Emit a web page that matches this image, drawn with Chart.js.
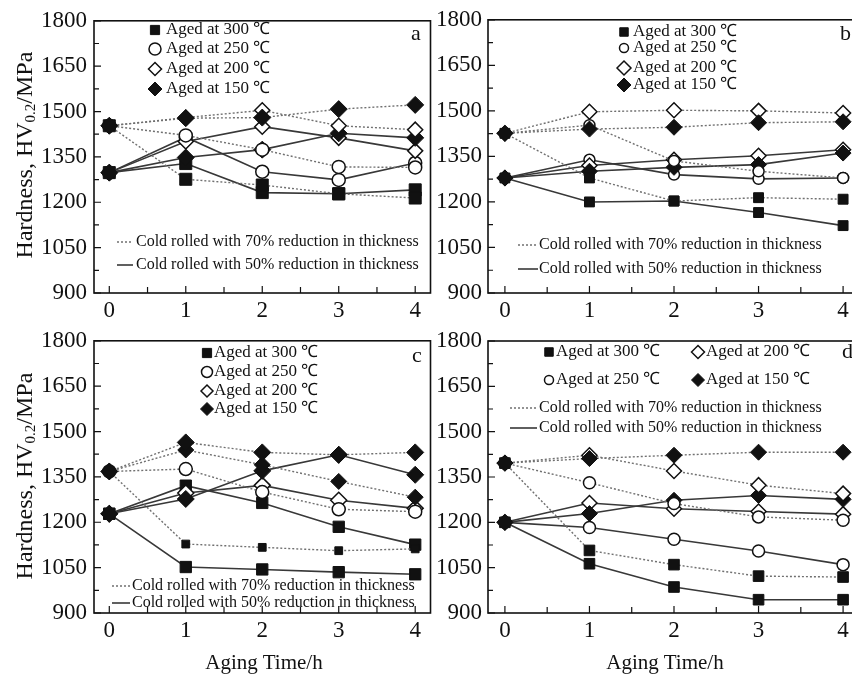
<!DOCTYPE html>
<html>
<head>
<meta charset="utf-8">
<script src="https://cdn.jsdelivr.net/npm/chart.js@4.4.1/dist/chart.umd.min.js"></script>
<style>
body{margin:0;width:852px;height:679px;overflow:hidden;background:#fff;position:relative;font-family:"Liberation Serif","Times New Roman",serif;color:#111;}
canvas{position:absolute;}
.ytit{position:absolute;white-space:nowrap;font-size:24px;line-height:1;transform:translate(-50%,-50%) rotate(-90deg);}
.ytit sub{font-size:15px;vertical-align:-3px;line-height:0;}
.xtit{position:absolute;white-space:nowrap;font-size:21px;line-height:1;transform:translate(-50%,-50%);}
</style>
</head>
<body>
<canvas id="ga" width="440" height="320" style="left:0;top:0"></canvas>
<canvas id="gb" width="440" height="320" style="left:430px;top:0"></canvas>
<canvas id="gc" width="440" height="330" style="left:0;top:320px"></canvas>
<canvas id="gd" width="440" height="330" style="left:430px;top:320px"></canvas>
<div class="ytit" style="left:24px;top:155px">Hardness, HV<sub>0.2</sub>/MPa</div>
<div class="ytit" style="left:24px;top:476px">Hardness, HV<sub>0.2</sub>/MPa</div>
<div class="xtit" style="left:264px;top:662px">Aging Time/h</div>
<div class="xtit" style="left:665px;top:662px">Aging Time/h</div>
<script>
var horas = [0, 1, 2, 3, 4];
var ticksX = [0, 1, 2, 3, 4];
var ticksY = [900, 1050, 1200, 1350, 1500, 1650, 1800];

// panel a
var a300_70 = [1453, 1276, 1257, 1228, 1214];
var a250_70 = [1453, 1421, 1374, 1317, 1315];
var a200_70 = [1453, 1480, 1504, 1453, 1440];
var a150_70 = [1453, 1478, 1480, 1508, 1522];
var a300_50 = [1298, 1328, 1232, 1228, 1241];
var a250_50 = [1298, 1415, 1301, 1274, 1330];
var a200_50 = [1298, 1401, 1450, 1413, 1370];
var a150_50 = [1298, 1348, 1374, 1428, 1413];

// panel b
var b300_70 = [1426, 1279, 1203, 1214, 1209];
var b250_70 = [1426, 1453, 1335, 1301, 1279];
var b200_70 = [1426, 1497, 1502, 1500, 1493];
var b150_70 = [1426, 1440, 1446, 1461, 1464];
var b300_50 = [1279, 1200, 1203, 1165, 1122];
var b250_50 = [1279, 1339, 1290, 1276, 1279];
var b200_50 = [1279, 1320, 1339, 1352, 1372];
var b150_50 = [1279, 1301, 1314, 1323, 1361];

// panel c
var c300_70 = [1368, 1128, 1117, 1106, 1112];
var c250_70 = [1368, 1376, 1300, 1243, 1235];
var c200_70 = [1368, 1439, 1390, 1335, 1283];
var c150_70 = [1368, 1464, 1431, 1423, 1431];
var c300_50 = [1228, 1052, 1044, 1035, 1028];
var c250_50 = [1228, 1321, 1264, 1185, 1126];
var c200_50 = [1228, 1297, 1322, 1273, 1246];
var c150_50 = [1228, 1277, 1370, 1423, 1357];

// panel d
var d300_70 = [1396, 1107, 1060, 1022, 1019];
var d250_70 = [1396, 1331, 1262, 1218, 1207];
var d200_70 = [1396, 1422, 1370, 1323, 1295];
var d150_70 = [1396, 1411, 1422, 1432, 1432];
var d300_50 = [1200, 1063, 986, 944, 944];
var d250_50 = [1200, 1183, 1144, 1105, 1060];
var d200_50 = [1200, 1264, 1245, 1236, 1227];
var d150_50 = [1200, 1229, 1273, 1289, 1276];

var txt300 = 'Aged at 300 \u2103';
var txt250 = 'Aged at 250 \u2103';
var txt200 = 'Aged at 200 \u2103';
var txt150 = 'Aged at 150 \u2103';
var txt70 = 'Cold rolled with 70% reduction in thickness';
var txt50 = 'Cold rolled with 50% reduction in thickness';

Chart.defaults.font.family = '"Liberation Serif", "Times New Roman", serif';
Chart.defaults.font.size = 23;
Chart.defaults.color = '#111';

function estiloMarca(marca) {
    if (marca == 'cuadro') return 'rect';
    if (marca == 'circulo') return 'circle';
    return 'rectRot';
}

function serie(datos, linea, marca, r) {
    var abierto = (marca == 'circulo' || marca == 'rombo');
    return {
        data: horas.map(function (h, i) { return {x: h, y: datos[i]}; }),
        borderColor: linea == 'punteada' ? '#707070' : '#383838',
        borderWidth: linea == 'punteada' ? 1.4 : 1.6,
        borderDash: linea == 'punteada' ? [2, 2] : [],
        pointStyle: estiloMarca(marca),
        pointRadius: r,
        pointHoverRadius: r,
        pointBackgroundColor: abierto ? '#fff' : '#111',
        pointBorderColor: '#111',
        pointBorderWidth: abierto ? 1.5 : 1
    };
}

// frame, inward ticks, legend and panel letter
var marco = {
    id: 'marco',
    afterDraw: function (chart, args, o) {
        var ctx = chart.ctx, ca = chart.chartArea;
        var sx = chart.scales.x, sy = chart.scales.y;
        ctx.save();
        ctx.strokeStyle = '#111';
        ctx.lineWidth = 1.6;
        ctx.strokeRect(ca.left, ca.top, ca.right - ca.left, ca.bottom - ca.top);
        ctx.lineWidth = 1.2;
        ctx.beginPath();
        for (var i = 0; i < ticksY.length; i++) {
            var py = sy.getPixelForValue(ticksY[i]);
            ctx.moveTo(ca.left, py); ctx.lineTo(ca.left + 7, py);
            if (i < ticksY.length - 1) {
                var pm = sy.getPixelForValue((ticksY[i] + ticksY[i + 1]) / 2);
                ctx.moveTo(ca.left, pm); ctx.lineTo(ca.left + 5, pm);
            }
        }
        for (var j = 0; j < ticksX.length; j++) {
            var px = sx.getPixelForValue(ticksX[j]);
            ctx.moveTo(px, ca.bottom); ctx.lineTo(px, ca.bottom - 7);
            if (j < ticksX.length - 1) {
                var pmx = sx.getPixelForValue((ticksX[j] + ticksX[j + 1]) / 2);
                ctx.moveTo(pmx, ca.bottom); ctx.lineTo(pmx, ca.bottom - 6);
            }
        }
        ctx.stroke();

        var ox = o.ox, oy = o.oy;
        ctx.fillStyle = '#111';
        ctx.textBaseline = 'middle';
        ctx.textAlign = 'left';
        ctx.font = '22px "Liberation Serif", "Times New Roman", serif';
        ctx.fillText(o.letra, o.lx - ox, o.ly - oy);

        ctx.font = o.fm + 'px "Liberation Serif", "Times New Roman", serif';
        o.marcas.forEach(function (m) {
            var abierto = (m.tipo == 'circulo' || m.tipo == 'rombo');
            ctx.fillStyle = abierto ? '#fff' : '#111';
            ctx.strokeStyle = '#111';
            ctx.lineWidth = abierto ? 1.5 : 1;
            Chart.helpers.drawPoint(ctx, {pointStyle: estiloMarca(m.tipo), radius: m.r, rotation: 0, borderWidth: ctx.lineWidth}, m.mx - ox, m.y - oy);
            ctx.fillStyle = '#111';
            ctx.fillText(m.texto, m.tx - ox, m.y - oy);
        });

        ctx.font = o.fl + 'px "Liberation Serif", "Times New Roman", serif';
        o.lineas.forEach(function (l) {
            ctx.beginPath();
            ctx.strokeStyle = l.tipo == 'punteada' ? '#707070' : '#383838';
            ctx.lineWidth = l.tipo == 'punteada' ? 1.4 : 1.6;
            ctx.setLineDash(l.tipo == 'punteada' ? [2, 2] : []);
            ctx.moveTo(l.x1 - ox, l.y - oy);
            ctx.lineTo(l.x2 - ox, l.y - oy);
            ctx.stroke();
            ctx.setLineDash([]);
            ctx.fillStyle = '#111';
            ctx.fillText(l.texto, l.tx - ox, l.y - oy);
        });
        ctx.restore();
    }
};

function Graficar(id, series, geo, leyenda) {
    var canvas = document.getElementById(id).getContext('2d');
    return new Chart(canvas, {
        type: 'line',
        data: { datasets: series },
        options: {
            responsive: false,
            animation: false,
            devicePixelRatio: 1,
            layout: { padding: { top: geo.top, right: geo.right, left: 0, bottom: 0 } },
            elements: { line: { tension: 0 } },
            plugins: { legend: { display: false }, tooltip: { enabled: false }, marco: leyenda },
            scales: {
                x: {
                    type: 'linear', min: -0.2, max: 4.2,
                    grid: { display: false, drawTicks: false }, border: { display: false },
                    afterBuildTicks: function (s) { s.ticks = ticksX.map(function (v) { return {value: v}; }); },
                    afterFit: function (s) { s.height = geo.xh; },
                    ticks: { padding: 4, maxRotation: 0, callback: function (v) { return String(v); } }
                },
                y: {
                    min: 900, max: 1800,
                    grid: { display: false, drawTicks: false }, border: { display: false },
                    afterBuildTicks: function (s) { s.ticks = ticksY.map(function (v) { return {value: v}; }); },
                    afterFit: function (s) { s.width = geo.yw; },
                    ticks: { padding: geo.yp, callback: function (v) { return String(v); } }
                }
            }
        },
        plugins: [marco]
    });
}

// first dataset is drawn on top
Graficar('ga', [
    serie(a150_70, 'punteada', 'rombolleno', 8.5),
    serie(a200_70, 'punteada', 'rombo', 7.5),
    serie(a250_70, 'punteada', 'circulo', 6.5),
    serie(a300_70, 'punteada', 'cuadro', 8.5),
    serie(a150_50, 'solida', 'rombolleno', 8.5),
    serie(a200_50, 'solida', 'rombo', 7.5),
    serie(a250_50, 'solida', 'circulo', 6.5),
    serie(a300_50, 'solida', 'cuadro', 8.5)
], {top: 17, right: 8, xh: 27, yw: 94, yp: 7}, {
    ox: 0, oy: 0, letra: 'a', lx: 411, ly: 34, fm: 17, fl: 16,
    marcas: [
        {tipo: 'cuadro', r: 6.5, mx: 155, tx: 166, y: 30, texto: txt300},
        {tipo: 'circulo', r: 6, mx: 155, tx: 166, y: 49, texto: txt250},
        {tipo: 'rombo', r: 6.5, mx: 155, tx: 166, y: 69, texto: txt200},
        {tipo: 'rombolleno', r: 7, mx: 155, tx: 166, y: 89, texto: txt150}
    ],
    lineas: [
        {tipo: 'punteada', x1: 117, x2: 133, tx: 136, y: 242, texto: txt70},
        {tipo: 'solida', x1: 117, x2: 133, tx: 136, y: 265, texto: txt50}
    ]
});

Graficar('gb', [
    serie(b150_70, 'punteada', 'rombolleno', 8),
    serie(b200_70, 'punteada', 'rombo', 7.5),
    serie(b250_70, 'punteada', 'circulo', 5.5),
    serie(b300_70, 'punteada', 'cuadro', 7),
    serie(b150_50, 'solida', 'rombolleno', 8),
    serie(b200_50, 'solida', 'rombo', 7.5),
    serie(b250_50, 'solida', 'circulo', 5.5),
    serie(b300_50, 'solida', 'cuadro', 7)
], {top: 17, right: 10, xh: 27, yw: 58, yp: 6}, {
    ox: 430, oy: 0, letra: 'b', lx: 840, ly: 34, fm: 17, fl: 16,
    marcas: [
        {tipo: 'cuadro', r: 6, mx: 624, tx: 633, y: 32, texto: txt300},
        {tipo: 'circulo', r: 4.5, mx: 624, tx: 633, y: 48, texto: txt250},
        {tipo: 'rombo', r: 7, mx: 624, tx: 633, y: 68, texto: txt200},
        {tipo: 'rombolleno', r: 7, mx: 624, tx: 633, y: 85, texto: txt150}
    ],
    lineas: [
        {tipo: 'punteada', x1: 518, x2: 538, tx: 539, y: 245, texto: txt70},
        {tipo: 'solida', x1: 518, x2: 538, tx: 539, y: 269, texto: txt50}
    ]
});

Graficar('gc', [
    serie(c150_70, 'punteada', 'rombolleno', 8.5),
    serie(c200_70, 'punteada', 'rombolleno', 8),
    serie(c250_70, 'punteada', 'circulo', 6.5),
    serie(c300_70, 'punteada', 'cuadro', 5.5),
    serie(c150_50, 'solida', 'rombolleno', 8.5),
    serie(c200_50, 'solida', 'rombo', 8),
    serie(c250_50, 'solida', 'cuadro', 8),
    serie(c300_50, 'solida', 'cuadro', 8)
], {top: 18, right: 8, xh: 37, yw: 94, yp: 7}, {
    ox: 0, oy: 320, letra: 'c', lx: 412, ly: 356, fm: 17, fl: 16,
    marcas: [
        {tipo: 'cuadro', r: 6.5, mx: 207, tx: 214, y: 353, texto: txt300},
        {tipo: 'circulo', r: 5.5, mx: 207, tx: 214, y: 372, texto: txt250},
        {tipo: 'rombo', r: 6, mx: 207, tx: 214, y: 391, texto: txt200},
        {tipo: 'rombolleno', r: 6.5, mx: 207, tx: 214, y: 409, texto: txt150}
    ],
    lineas: [
        {tipo: 'punteada', x1: 112, x2: 130, tx: 132, y: 586, texto: txt70},
        {tipo: 'solida', x1: 112, x2: 130, tx: 132, y: 603, texto: txt50}
    ]
});

Graficar('gd', [
    serie(d150_70, 'punteada', 'rombolleno', 8),
    serie(d200_70, 'punteada', 'rombo', 7.5),
    serie(d250_70, 'punteada', 'circulo', 6),
    serie(d300_70, 'punteada', 'cuadro', 7.5),
    serie(d150_50, 'solida', 'rombolleno', 8),
    serie(d200_50, 'solida', 'rombo', 7.5),
    serie(d250_50, 'solida', 'circulo', 6),
    serie(d300_50, 'solida', 'cuadro', 7.5)
], {top: 21, right: 10, xh: 37, yw: 58, yp: 6}, {
    ox: 430, oy: 320, letra: 'd', lx: 842, ly: 352, fm: 17, fl: 16,
    marcas: [
        {tipo: 'cuadro', r: 6, mx: 549, tx: 556, y: 352, texto: txt300},
        {tipo: 'rombo', r: 6.5, mx: 698, tx: 706, y: 352, texto: txt200},
        {tipo: 'circulo', r: 4.5, mx: 549, tx: 556, y: 380, texto: txt250},
        {tipo: 'rombolleno', r: 6.5, mx: 698, tx: 706, y: 380, texto: txt150}
    ],
    lineas: [
        {tipo: 'punteada', x1: 510, x2: 537, tx: 539, y: 408, texto: txt70},
        {tipo: 'solida', x1: 510, x2: 537, tx: 539, y: 428, texto: txt50}
    ]
});
</script>
</body>
</html>
